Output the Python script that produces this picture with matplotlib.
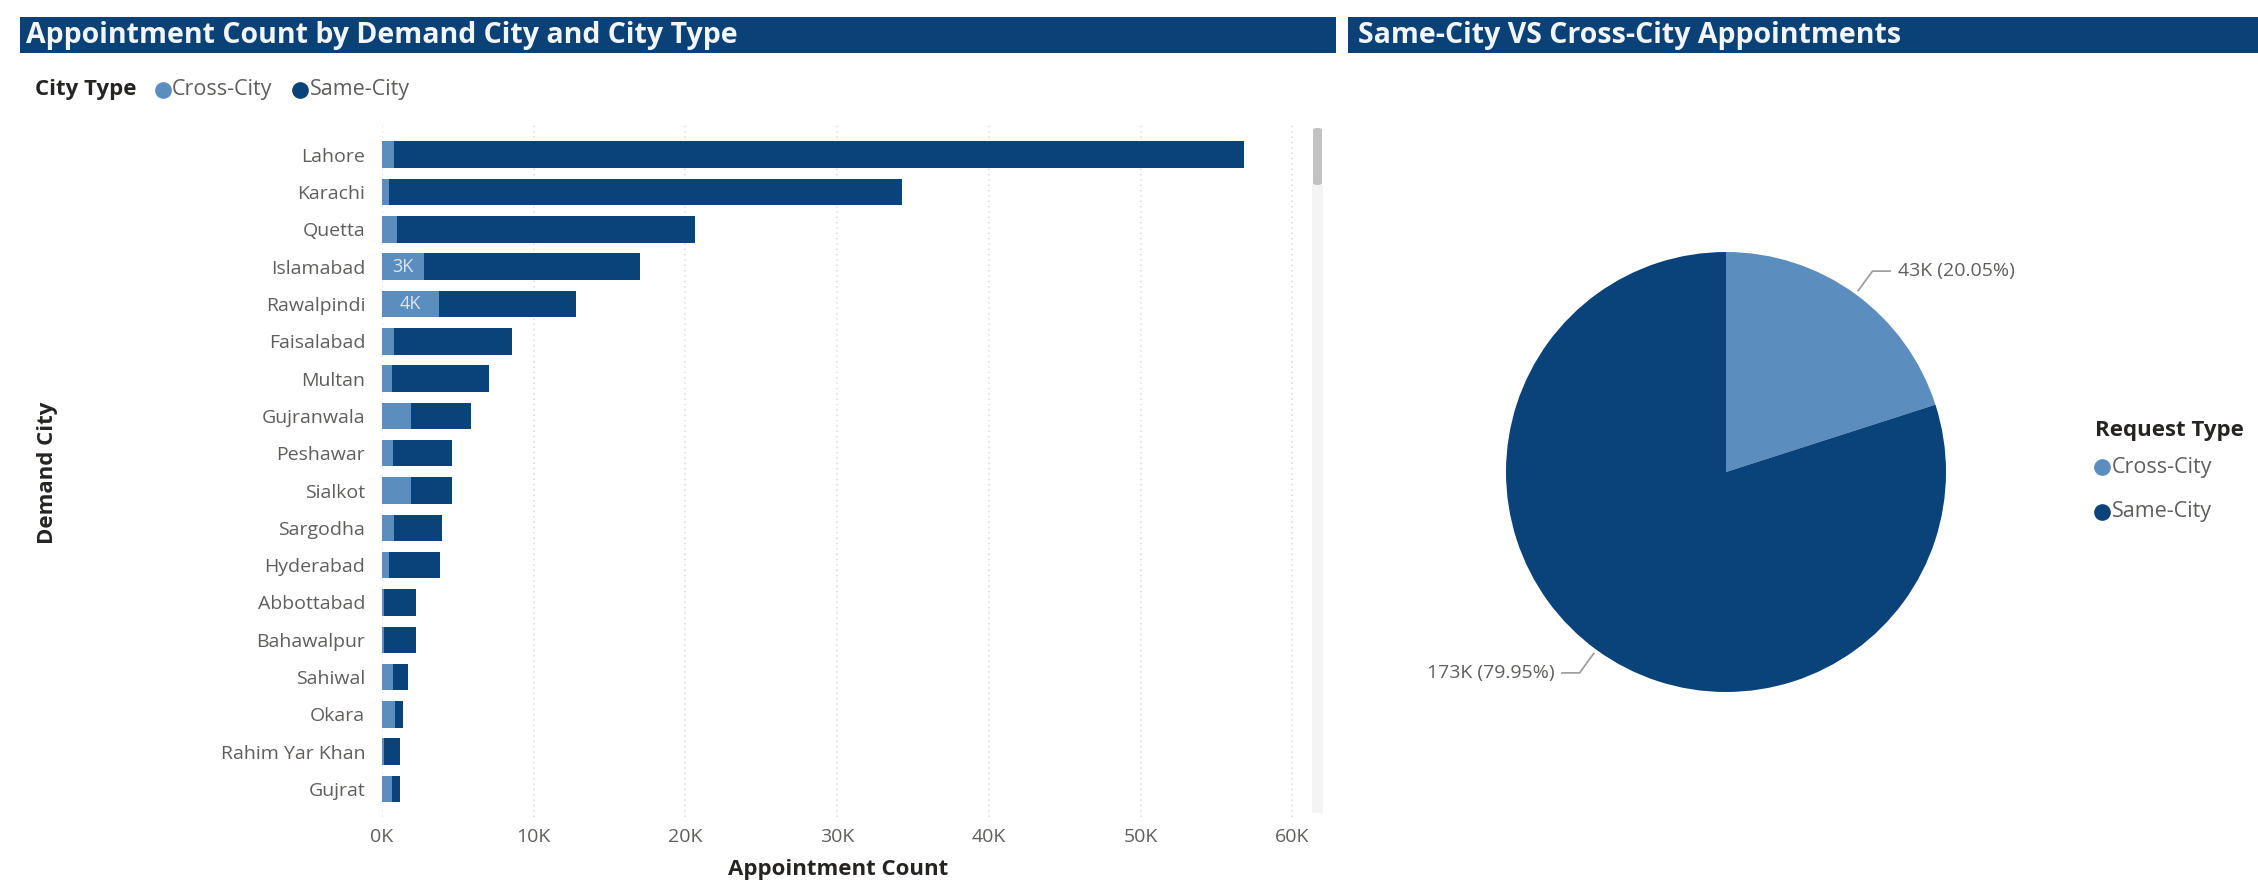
import matplotlib
matplotlib.use("Agg")
import matplotlib.pyplot as plt
from matplotlib.patches import Rectangle, FancyBboxPatch
from matplotlib.lines import Line2D
import numpy as np

# ---------------- data ----------------
cities = ["Lahore", "Karachi", "Quetta", "Islamabad", "Rawalpindi", "Faisalabad",
          "Multan", "Gujranwala", "Peshawar", "Sialkot", "Sargodha", "Hyderabad",
          "Abbottabad", "Bahawalpur", "Sahiwal", "Okara", "Rahim Yar Khan", "Gujrat"]
cross_city = [810, 460, 970, 2770, 3780, 810, 680, 1890, 700, 1910, 810, 460,
              120, 120, 700, 860, 150, 640]
same_city = [55990, 33840, 19630, 14230, 9020, 7790, 6390, 3960, 3940, 2730, 3170, 3360,
             2100, 2100, 990, 500, 1040, 550]
x_ticks = [0, 10000, 20000, 30000, 40000, 50000, 60000]
x_tick_labels = ["0K", "10K", "20K", "30K", "40K", "50K", "60K"]

pie_labels = ["Cross-City", "Same-City"]
pie_values = [43380, 172980]

# ---------------- style ----------------
DARK = "#0A437A"
LIGHT = "#5B8DBE"
BAR_TITLE = "#0A4177"
GRAY = "#605E5C"
DARKTXT = "#252423"
FONT = "Open Sans"
plt.rcParams["font.family"] = [FONT, "DejaVu Sans"]

W, H = 2258, 880
fig = plt.figure(figsize=(W / 100, H / 100), dpi=100, facecolor="white")


def fx(x):
    return x / W


def fy(y):
    return 1 - y / H


# title bars
fig.add_artist(Rectangle((fx(20), fy(53)), fx(1336) - fx(20), (53 - 17) / H,
                         transform=fig.transFigure, color=BAR_TITLE, lw=0))
fig.add_artist(Rectangle((fx(1348), fy(53)), fx(2258) - fx(1348), (53 - 17) / H,
                         transform=fig.transFigure, color=BAR_TITLE, lw=0))
fig.text(fx(26), fy(35), "Appointment Count by Demand City and City Type", color="#F2F5F9",
         fontsize=20.5, fontweight="bold", va="center", ha="left")
fig.text(fx(1358), fy(35), "Same-City VS Cross-City Appointments", color="#F2F5F9",
         fontsize=20.5, fontweight="bold", va="center", ha="left")

# City Type legend
LY = 90
fig.text(fx(35), fy(LY), "City Type", color=DARKTXT, fontsize=16, fontweight="bold",
         va="center", ha="left")
fig.add_artist(Line2D([fx(163)], [fy(LY)], marker="o", markersize=11, color=LIGHT, lw=0,
                      transform=fig.transFigure))
fig.text(fx(172), fy(LY), "Cross-City", color=GRAY, fontsize=15.5, va="center", ha="left")
fig.add_artist(Line2D([fx(300)], [fy(LY)], marker="o", markersize=11, color=DARK, lw=0,
                      transform=fig.transFigure))
fig.text(fx(310), fy(LY), "Same-City", color=GRAY, fontsize=15.5, va="center", ha="left")

# ---------------- bar chart ----------------
ax_left, ax_right, ax_top, ax_bot = 382, 1300, 123, 817
ax = fig.add_axes([fx(ax_left), fy(ax_bot), (ax_right - ax_left) / W, (ax_bot - ax_top) / H])
ypos = np.arange(len(cities))
ax.barh(ypos, cross_city, height=0.71, color=LIGHT, lw=0, zorder=3)
ax.barh(ypos, same_city, left=cross_city, height=0.71, color=DARK, lw=0, zorder=3)
for i, v in enumerate(cross_city):
    if v > 2500:
        ax.text(v / 2, i, f"{round(v / 1000)}K", color="#DCE6F1", fontsize=13,
                ha="center", va="center", zorder=4)
ax.set_xlim(0, 60500)
ax.set_ylim(len(cities) - 1 + 0.75, -0.85)
ax.set_yticks(ypos)
ax.set_yticklabels(cities, color=GRAY, fontsize=14)
ax.set_xticks(x_ticks)
ax.set_xticklabels(x_tick_labels, color=GRAY, fontsize=14)
ax.tick_params(axis="both", length=0)
ax.tick_params(axis="y", pad=12)
ax.tick_params(axis="x", pad=8)
for s in ax.spines.values():
    s.set_visible(False)
ax.xaxis.grid(True, linestyle=(0, (1, 2.5)), color="#D9D9D9", linewidth=1.1, zorder=0)
ax.set_axisbelow(True)

fig.text(fx(838), fy(869), "Appointment Count", color=DARKTXT, fontsize=16,
         fontweight="bold", ha="center", va="center")
fig.text(fx(48), fy(473), "Demand City", color=DARKTXT, fontsize=16,
         fontweight="bold", ha="center", va="center", rotation=90)

# scrollbar
fig.add_artist(Rectangle((fx(1312), fy(813)), 11 / W, (813 - 185) / H,
                         transform=fig.transFigure, color="#F4F4F4", lw=0))
fig.add_artist(FancyBboxPatch((fx(1313), fy(185)), 9 / W, (185 - 128) / H,
                              boxstyle="round,pad=0,rounding_size=0.002",
                              transform=fig.transFigure, color="#C2C2C2", lw=0))

# ---------------- pie ----------------
cx, cy, r = 1726, 472, 220
pax = fig.add_axes([fx(cx - r), fy(cy + r), 2 * r / W, 2 * r / H])
wedges, _ = pax.pie(pie_values, colors=[LIGHT, DARK], startangle=90, counterclock=False,
                    radius=1, wedgeprops=dict(linewidth=0))
pax.set_xlim(-1, 1)
pax.set_ylim(-1, 1)
pax.set_aspect("equal")
pax.axis("off")

total = sum(pie_values)
for w, v in zip(wedges, pie_values):
    ang = np.deg2rad((w.theta1 + w.theta2) / 2)
    c, s = np.cos(ang), np.sin(ang)
    p0 = (1.02 * c, 1.02 * s)
    p1 = (1.13 * c, 1.13 * s)
    sgn = 1 if c >= 0 else -1
    p2 = (p1[0] + sgn * 0.08, p1[1])
    pax.plot([p0[0], p1[0], p2[0]], [p0[1], p1[1], p2[1]], color="#9A9A9A", lw=1.2,
             clip_on=False)
    label = f"{round(v / 1000)}K ({v / total * 100:.2f}%)"
    pax.text(p2[0] + sgn * 0.035, p2[1], label, color=GRAY, fontsize=14,
             ha="left" if sgn > 0 else "right", va="center", clip_on=False)

# Request Type legend
fig.text(fx(2095), fy(430), "Request Type", color=DARKTXT, fontsize=16, fontweight="bold",
         va="center", ha="left")
for lab, col, yy in zip(pie_labels, [LIGHT, DARK], [467, 512]):
    fig.add_artist(Line2D([fx(2102)], [fy(yy)], marker="o", markersize=11, color=col, lw=0,
                          transform=fig.transFigure))
    fig.text(fx(2112), fy(yy), lab, color=GRAY, fontsize=15.5, va="center", ha="left")

fig.savefig("out.png", dpi=100, facecolor="white")
